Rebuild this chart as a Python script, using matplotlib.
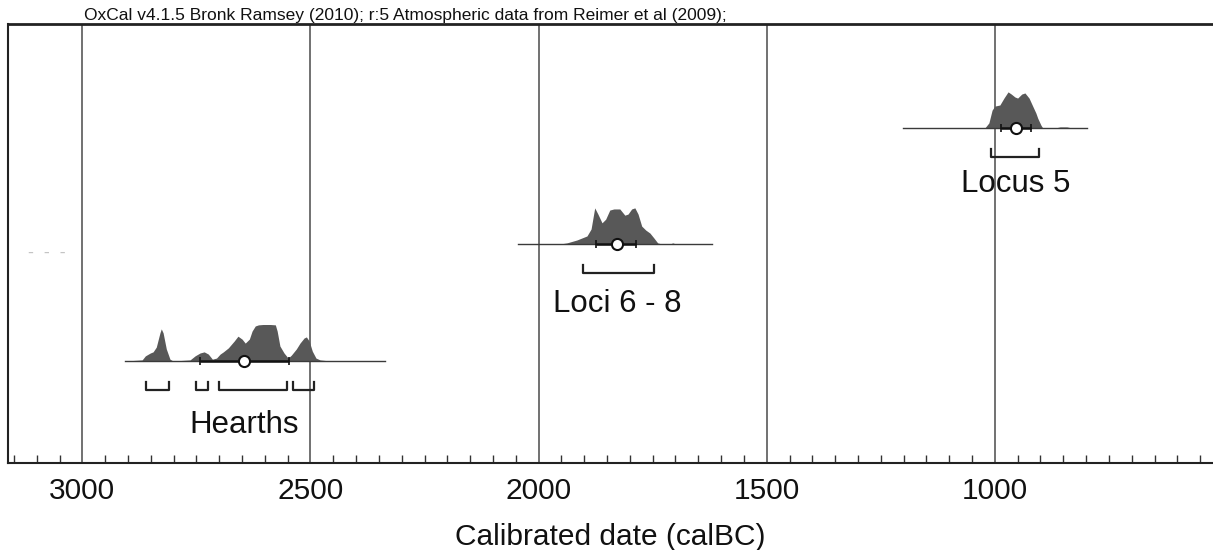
"""
OxCal calibrated date plot: Hearths, Loci 6 - 8, Locus 5.
"""
import matplotlib
matplotlib.use('Agg')
import matplotlib.pyplot as plt
from matplotlib.ticker import MultipleLocator

# ---- data (calendar years BC, probability as % of the tallest peak) ----
hearths_years = [2906, 2869, 2862, 2851, 2845, 2838, 2830, 2827, 2823, 2816, 2808, 2801,
                 2764, 2753, 2742, 2733, 2724, 2715, 2706, 2698, 2691, 2680, 2667, 2659,
                 2650, 2643, 2634, 2628, 2621, 2614, 2604, 2588, 2577, 2573, 2567, 2558,
                 2549, 2542, 2531, 2523, 2514, 2509, 2503, 2496, 2488, 2479, 2457]
hearths_prob = [0, 3, 14, 22, 25, 38, 77, 88, 77, 33, 5, 0,
                 3, 14, 22, 25, 19, 5, 8, 19, 25, 36, 55, 68,
                 60, 49, 60, 82, 96, 99, 100, 100, 99, 82, 41, 22,
                 8, 16, 33, 49, 63, 66, 55, 27, 8, 3, 0]
hearths_span = [2906, 2336]
hearths_median = 2645
hearths_sigma = [2742, 2547]
hearths_ranges = [(2860, 2810), (2751, 2724), (2700, 2551), (2538, 2492)]

loci_years = [1953, 1938, 1916, 1894, 1885, 1877, 1870, 1861, 1853, 1844, 1835, 1822,
              1811, 1804, 1796, 1789, 1782, 1774, 1765, 1756, 1747, 1739, 1730, 1712,
              1706, 1699]
loci_prob = [0, 3, 11, 22, 41, 99, 82, 58, 68, 93, 96, 96,
             79, 82, 96, 99, 82, 49, 38, 30, 16, 3, 0, 0,
             3, 0]
loci_span = [2045, 1620]
loci_median = 1828
loci_sigma = [1870, 1782]
loci_ranges = [(1903, 1747)]

locus5_years = [1022, 1013, 1006, 1000, 989, 980, 971, 964, 956, 950, 941, 934,
                925, 917, 910, 906, 899, 895, 868, 857, 842, 831]
locus5_prob = [0, 14, 49, 60, 63, 82, 99, 93, 85, 82, 93, 96,
               82, 60, 41, 27, 8, 0, 0, 3, 3, 0]
locus5_span = [1201, 798]
locus5_median = 954
locus5_sigma = [987, 921]
locus5_ranges = [(1008, 903)]

labels = ['Hearths', 'Loci 6 - 8', 'Locus 5']
major_ticks = [3000, 2500, 2000, 1500, 1000]

# ---- layout (y axis in screen-pixel units, 0 = bottom axis) ----
ROW_BASE = [102, 219, 335]
LABEL_DROP = [72, 68, 64]
PEAK = 36.5
BRACKET_DROP = 29
BRACKET_TICK = 8
FILL = '#585858'

plt.rcParams['font.family'] = ['Liberation Sans', 'DejaVu Sans']

fig = plt.figure(figsize=(12.13, 5.5), dpi=100)
ax = fig.add_axes([8 / 1213, 87 / 550, 1204 / 1213, 439 / 550])
ax.set_xlim(3163, 524)
ax.set_ylim(0, 439)

for x in major_ticks:
    ax.axvline(x, color='#4a4a4a', linewidth=1.1, zorder=1)

rows = [
    (hearths_years, hearths_prob, hearths_span, hearths_median, hearths_sigma, hearths_ranges),
    (loci_years, loci_prob, loci_span, loci_median, loci_sigma, loci_ranges),
    (locus5_years, locus5_prob, locus5_span, locus5_median, locus5_sigma, locus5_ranges),
]

for i, (yrs, prob, span, med, sig, rngs) in enumerate(rows):
    base = ROW_BASE[i]
    top = [base + p / 100 * PEAK for p in prob]
    ax.fill_between(yrs, base, top, color=FILL, linewidth=0, zorder=2)
    ax.plot(span, [base, base], color='#3a3a3a', linewidth=1.0, zorder=3)
    ax.errorbar([med], [base], xerr=[[sig[0] - med], [med - sig[1]]], fmt='none',
                ecolor='#111111', elinewidth=1.8, capsize=3, capthick=1.2, zorder=4)
    ax.plot([med], [base], 'o', markersize=8, markerfacecolor='white',
            markeredgecolor='#111111', markeredgewidth=1.5, zorder=5)
    yb = base - BRACKET_DROP
    for a, b in rngs:
        ax.plot([a, a, b, b], [yb + BRACKET_TICK, yb, yb, yb + BRACKET_TICK],
                color='#222222', linewidth=1.6, zorder=3)
    ax.text(med, base - LABEL_DROP[i], labels[i], ha='center', va='baseline',
            fontsize=22.5, color='#111111', zorder=6)

# faint leftover marks at the left edge
ax.text(3120, 209, '-  -  -', fontsize=13, color='#c4c4c4', va='center', ha='left')

# axes styling
ax.spines['right'].set_visible(False)
ax.spines['top'].set_linewidth(2.0)
ax.spines['left'].set_linewidth(1.5)
ax.spines['bottom'].set_linewidth(1.5)
for s in ['top', 'left', 'bottom']:
    ax.spines[s].set_color('#222222')

ax.set_yticks([])
ax.set_xticks(major_ticks)
ax.xaxis.set_minor_locator(MultipleLocator(50))
ax.tick_params(axis='x', which='major', direction='in', length=0, pad=10,
               labelsize=21.5, labelcolor='#111111')
ax.tick_params(axis='x', which='minor', direction='in', length=6, width=1.0,
               color='#333333')
ax.set_xlabel('Calibrated date (calBC)', fontsize=21.5, color='#111111', labelpad=13)

fig.text(84 / 1213, 1 - 20 / 550,
         'OxCal v4.1.5 Bronk Ramsey (2010); r:5 Atmospheric data from Reimer et al (2009);',
         fontsize=12.5, color='#111111', ha='left', va='baseline')

fig.savefig('out.png', dpi=100, facecolor='white')
plt.close(fig)
